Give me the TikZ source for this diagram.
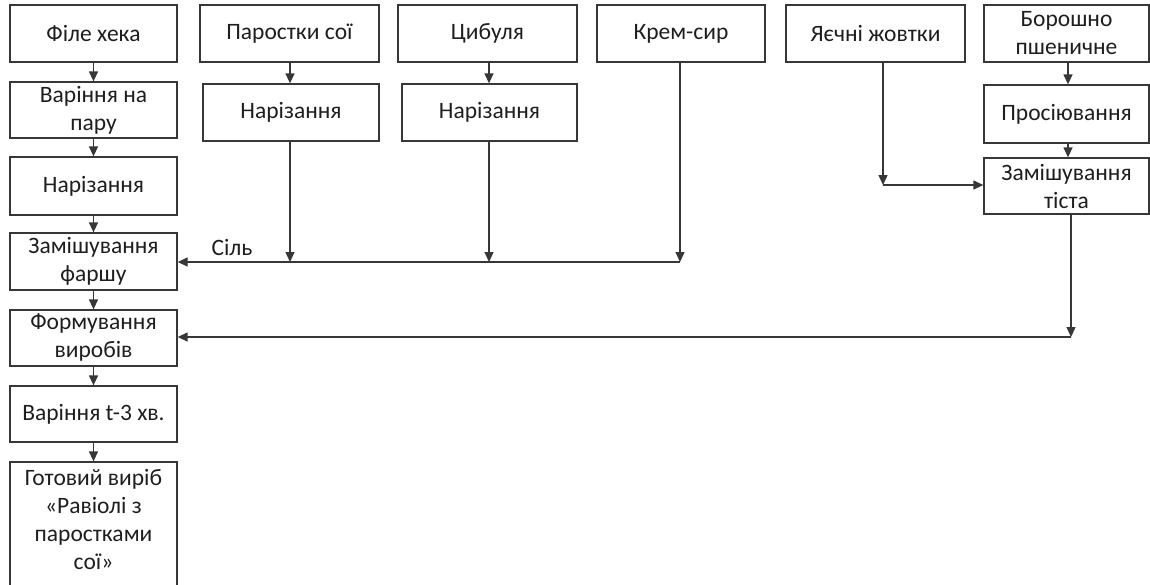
\documentclass[tikz,border=0pt]{standalone}
\usepackage{fontspec}
\setmainfont{Carlito}
\usetikzlibrary{arrows.meta}
\definecolor{lc}{RGB}{55,55,55}
\definecolor{tc}{RGB}{30,30,30}
\begin{document}
\begin{tikzpicture}[x=1pt,y=-1pt,
  box/.style={draw=lc, line width=1.3pt, inner sep=0pt, align=center, text=tc,
    font=\fontsize{23.5}{28}\selectfont},
  conn/.style={draw=lc, line width=1.3pt},
  arr/.style={conn, -{Triangle[length=10pt,width=9pt]}}]
\useasboundingbox (0,0) rectangle (1150,584);
% left column
\node[box, minimum width=167pt, minimum height=57pt] (L1) at (93.5,33.5) {Філе хека};
\node[box, minimum width=167pt, minimum height=56pt] (L2) at (93.5,110) {Варіння на\\пару};
\node[box, minimum width=167pt, minimum height=58pt] (L3) at (93.5,186) {Нарізання};
\node[box, minimum width=167pt, minimum height=57pt] (L4) at (93.5,261.5) {Замішування\\фаршу};
\node[box, minimum width=167pt, minimum height=56pt] (L5) at (93.5,338) {Формування\\виробів};
\node[box, minimum width=167pt, minimum height=56pt] (L6) at (93.5,414) {Варіння t-3 хв.};
\node[box, minimum width=167pt, minimum height=130pt] (L7) at (93.5,527) {Готовий виріб\\«Равіолі з\\паростками\\сої»\rule[-16pt]{0pt}{0pt}};
% other columns
\node[box, minimum width=179pt, minimum height=57pt] (C2a) at (289.5,33.5) {Паростки сої};
\node[box, minimum width=176pt, minimum height=57pt] (C2b) at (291,112.5) {Нарізання};
\node[box, minimum width=179pt, minimum height=57pt] (C3a) at (487.5,33.5) {Цибуля};
\node[box, minimum width=175pt, minimum height=57pt] (C3b) at (489.5,112.5) {Нарізання};
\node[box, minimum width=168pt, minimum height=57pt] (C4) at (681,33.5) {Крем-сир};
\node[box, minimum width=179pt, minimum height=57pt] (C5) at (875.5,33.5) {Яєчні жовтки};
\node[box, minimum width=165pt, minimum height=57pt] (C6a) at (1066.5,33.5) {Борошно\\пшеничне};
\node[box, minimum width=165pt, minimum height=58pt] (C6b) at (1066.5,114) {Просіювання};
\node[box, minimum width=165pt, minimum height=56pt] (C6c) at (1066.5,186) {Замішування\\тіста};
\node[text=tc, font=\fontsize{23.5}{28}\selectfont, inner sep=0pt] (sil) at (232,247) {Сіль};
% junction coordinates
\coordinate (j2) at (290,262);
\coordinate (j3) at (489,262);
\coordinate (j4) at (680,262);
\coordinate (j5) at (883,185);
\coordinate (j6) at (1071,337);
% left column arrows
\draw[arr] (L1) -- (L2);
\draw[arr] (L2) -- (L3);
\draw[arr] (L3) -- (L4);
\draw[arr] (L4) -- (L5);
\draw[arr] (L5) -- (L6);
\draw[arr] (L6) -- (L7);
% column arrows
\draw[arr] (C2a.south -| j2) -- (C2b.north -| j2);
\draw[arr] (C3a.south -| j3) -- (C3b.north -| j3);
\draw[arr] (C2b.south -| j2) -- (j2);
\draw[arr] (C3b.south -| j3) -- (j3);
\draw[arr] (C4.south -| j4) -- (j4);
\draw[arr] (j4) -- (L4.east |- j4);
\draw[arr] (C5.south -| j5) -- (j5);
\draw[arr] (j5) -- (C6c.west |- j5);
\draw[arr] (C6a.south -| 1068,0) -- (C6b.north -| 1068,0);
\draw[arr] (C6b.south -| 1068,0) -- (C6c.north -| 1068,0);
\draw[arr] (C6c.south -| j6) -- (j6);
\draw[arr] (j6) -- (L5.east |- j6);
\end{tikzpicture}
\end{document}
